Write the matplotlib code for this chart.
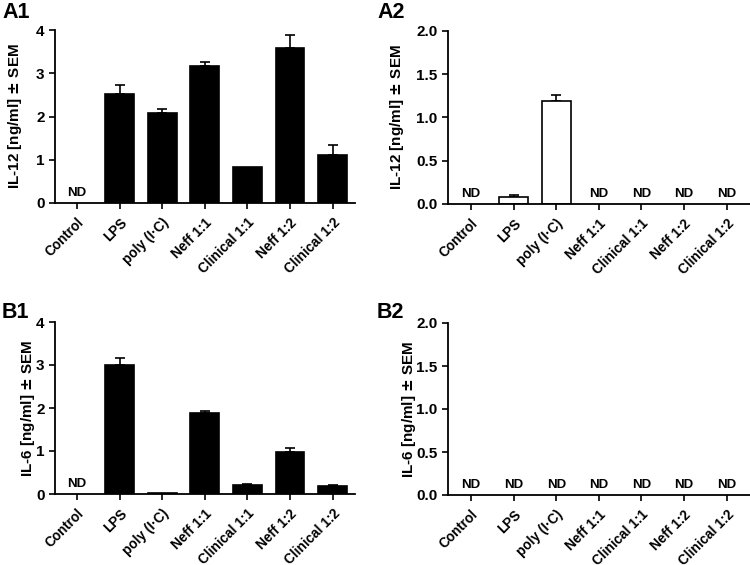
import numpy as np
import matplotlib
matplotlib.use("Agg")
import matplotlib.pyplot as plt

plt.rcParams['font.family'] = ['Liberation Sans', 'DejaVu Sans']
plt.rcParams['font.weight'] = 'bold'

categories = ["Control", "LPS", "poly (I·C)", "Neff 1:1", "Clinical 1:1", "Neff 1:2", "Clinical 1:2"]
ND = np.nan
a1_vals = [ND, 2.52, 2.08, 3.17, 0.83, 3.58, 1.12]
a1_err = [0, 0.20, 0.09, 0.09, 0.0, 0.30, 0.23]
a2_vals = [ND, 0.085, 1.19, ND, ND, ND, ND]
a2_err = [0, 0.02, 0.07, 0, 0, 0, 0]
b1_vals = [ND, 3.01, 0.02, 1.88, 0.22, 0.98, 0.19]
b1_err = [0, 0.16, 0.0, 0.04, 0.02, 0.08, 0.02]
b2_vals = [ND, ND, ND, ND, ND, ND, ND]
b2_err = [0, 0, 0, 0, 0, 0, 0]

fig = plt.figure(figsize=(7.5, 5.65), dpi=100)
W, H = 750, 565

def add_ax(l, r, t, b):
    return fig.add_axes([l / W, 1 - b / H, (r - l) / W, (b - t) / H])

panels = [
    dict(name="A1", box=(55, 355, 30, 203), x0=77, vals=a1_vals, err=a1_err, ymax=4, yt=[0, 1, 2, 3, 4],
         fmt="{:.0f}", fill="black", ylabel="IL-12 [ng/ml] $\\pm$ SEM", lab=(2, 12), ylx=24),
    dict(name="A2", box=(448, 750, 31, 204), x0=471, vals=a2_vals, err=a2_err, ymax=2, yt=[0, 0.5, 1.0, 1.5, 2.0],
         fmt="{:.1f}", fill="white", ylabel="IL-12 [ng/ml] $\\pm$ SEM", lab=(377, 12), ylx=406),
    dict(name="B1", box=(55, 355, 322, 494), x0=77, vals=b1_vals, err=b1_err, ymax=4, yt=[0, 1, 2, 3, 4],
         fmt="{:.0f}", fill="black", ylabel="IL-6 [ng/ml] $\\pm$ SEM", lab=(2, 313), ylx=37),
    dict(name="B2", box=(448, 750, 323, 495), x0=471, vals=b2_vals, err=b2_err, ymax=2, yt=[0, 0.5, 1.0, 1.5, 2.0],
         fmt="{:.1f}", fill="white", ylabel="IL-6 [ng/ml] $\\pm$ SEM", lab=(377, 313), ylx=418),
]

step = 42.6
for p in panels:
    l, r, t, b = p["box"]
    ax = add_ax(l, r, t, b)
    x = np.arange(len(categories))
    vals = np.array(p["vals"], dtype=float)
    err = np.array(p["err"], dtype=float)
    mask = ~np.isnan(vals)
    ax.bar(x[mask], vals[mask], width=0.68, color=p["fill"], edgecolor="black", linewidth=1.2, zorder=2)
    errmask = mask & (err > 0)
    ax.errorbar(x[errmask], vals[errmask], yerr=[np.zeros(errmask.sum()), err[errmask]],
                fmt="none", ecolor="black", elinewidth=1.2, capsize=3.8, capthick=1.2, zorder=1)
    for i in x[~mask]:
        ax.annotate("ND", xy=(i, 0), xytext=(0, 3), textcoords="offset points",
                    ha="center", va="bottom", fontsize=9.5, fontweight="bold")
    ax.set_xlim((l - p["x0"]) / step, (r - p["x0"]) / step)
    ax.set_ylim(0, p["ymax"])
    ax.set_yticks(p["yt"])
    ax.set_yticklabels([p["fmt"].format(v) for v in p["yt"]], fontsize=11, fontweight="bold")
    ax.set_xticks(x)
    ax.set_xticklabels(categories, rotation=45, ha="right", rotation_mode="anchor",
                       fontsize=9.8, fontweight="bold")
    for s in ["top", "right"]:
        ax.spines[s].set_visible(False)
    for s in ["left", "bottom"]:
        ax.spines[s].set_linewidth(1.3)
    ax.tick_params(axis="both", direction="out", width=1.2, length=4)
    ax.tick_params(axis="x", pad=5)
    ax.set_ylabel(p["ylabel"], fontsize=11, fontweight="bold")
    ax.yaxis.set_label_coords(p["ylx"] / W, 1 - ((t + b) / 2) / H, transform=fig.transFigure)
    fig.text(p["lab"][0] / W, 1 - p["lab"][1] / H, p["name"], fontsize=15.5, fontweight="bold",
             ha="left", va="center")

fig.savefig("out.png", dpi=100)
